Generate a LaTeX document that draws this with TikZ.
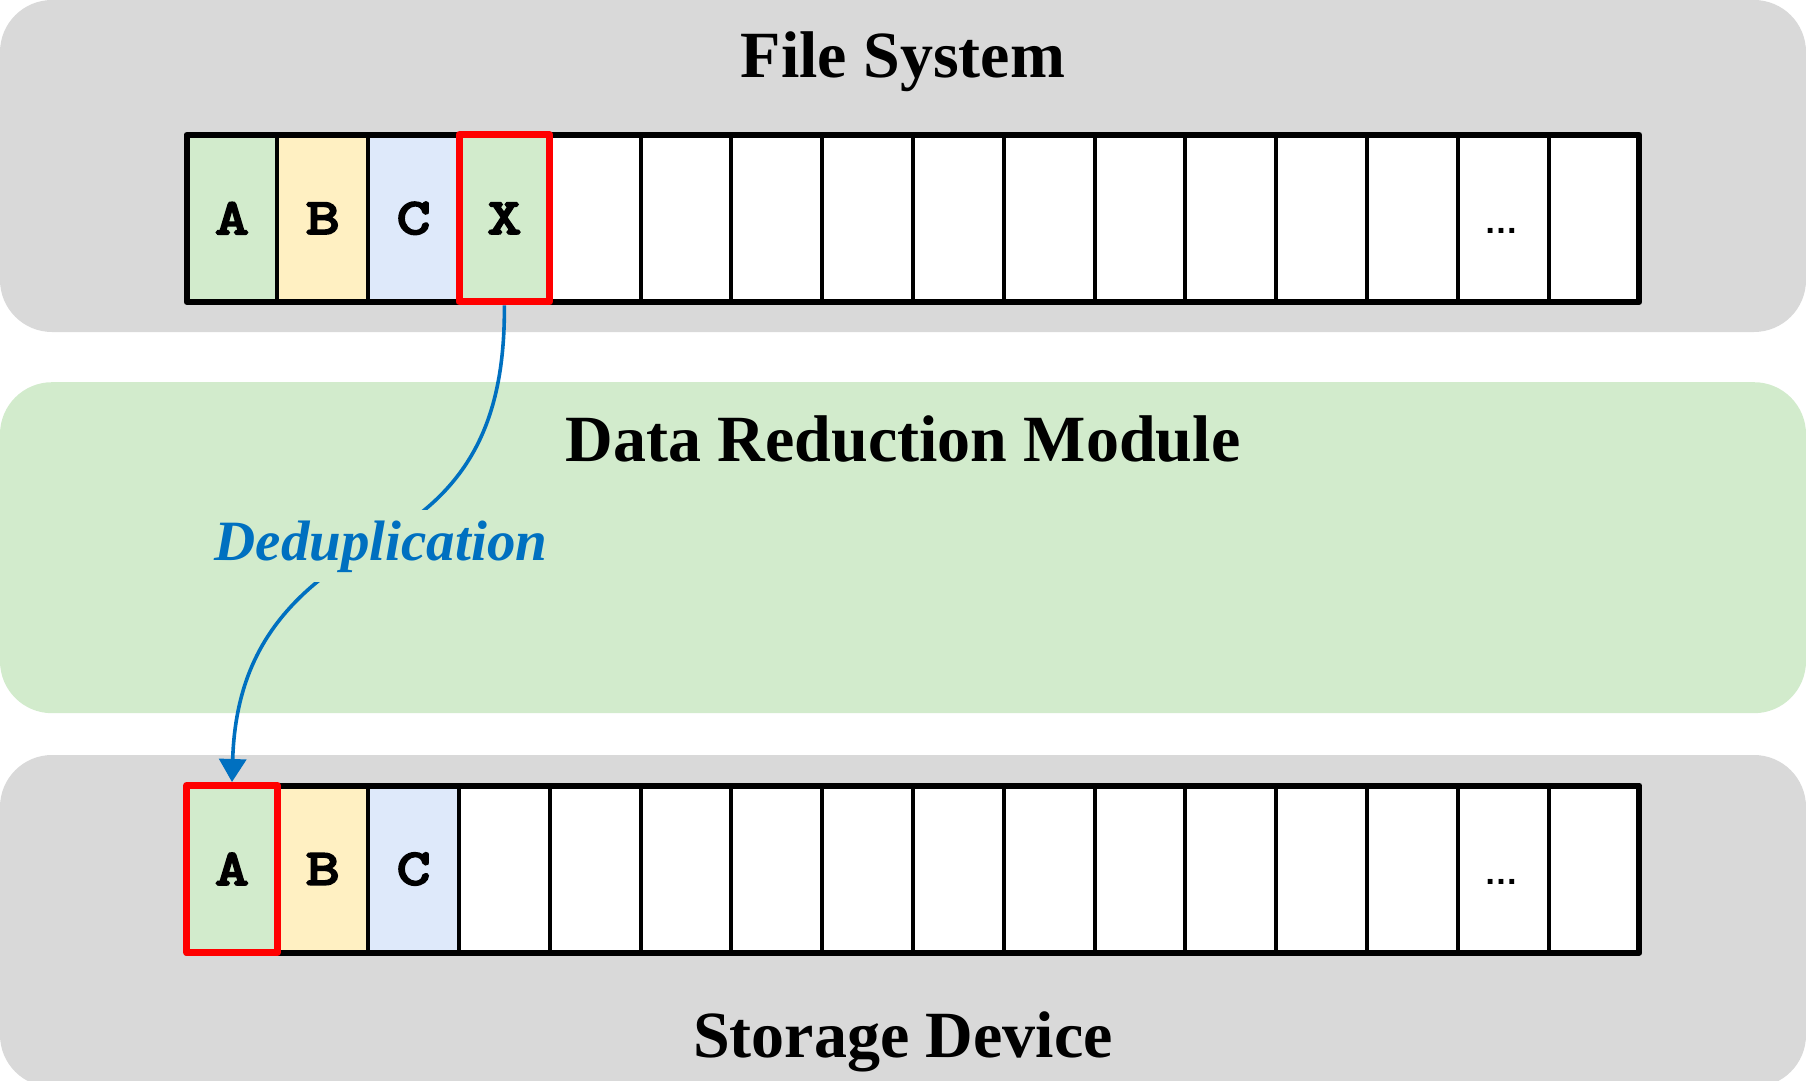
\documentclass[tikz,border=0pt]{standalone}
\usepackage{fontspec}
\setmainfont{Liberation Serif}
\newfontfamily\cellsans{Liberation Sans}
\newfontfamily\cellmono[FakeBold=5,FakeStretch=1.3]{Latin Modern Mono}
\usetikzlibrary{arrows.meta}
\definecolor{panelgray}{HTML}{D9D9D9}
\definecolor{modgreen}{HTML}{D2EBCC}
\definecolor{cellgreen}{HTML}{D2EBCC}
\definecolor{cellyellow}{HTML}{FFF0C2}
\definecolor{cellblue}{HTML}{DEE9FA}
\definecolor{dedupblue}{HTML}{0070C0}
\definecolor{markred}{HTML}{FF0000}
\begin{document}
\begin{tikzpicture}[x=0.5pt,y=-0.5pt,
  panel/.style={rounded corners=26pt, inner sep=0pt, outer sep=0pt, minimum width=903pt},
  title/.style={font=\fontsize{33}{36}\selectfont\bfseries, anchor=base, inner sep=0pt},
  cellbox/.style={draw=black, line width=2pt, minimum width=45.4pt, minimum height=83.5pt,
    inner sep=0pt, outer sep=0pt, fill=white,
    font=\cellmono\bfseries\fontsize{25}{25}\selectfont},
  rowframe/.style={draw=black, line width=3pt, line join=round},
  markbox/.style={draw=markred, line width=3.5pt, minimum width=45.4pt, minimum height=83.5pt,
    inner sep=0pt, outer sep=1.75pt, line join=round},
  dedup/.style={draw=dedupblue, line width=1.8pt, -{Triangle[width=13.5pt,length=11.5pt]}},
  deduplabel/.style={font=\fontsize{28.5}{30}\selectfont\bfseries\itshape, text=dedupblue,
    fill=modgreen, inner sep=5pt, anchor=base},
  dots/.style={font=\cellsans\bfseries\fontsize{17}{17}\selectfont, inner sep=0pt}
]
\useasboundingbox (0,0) rectangle (1806,1081);
\clip (0,0) rectangle (1806,1081);
% panels
\node[panel, fill=panelgray, minimum height=166pt] (fspanel) at (903,166) {};
\node[panel, fill=modgreen, minimum height=165.5pt] (drmpanel) at (903,547.7) {};
\node[panel, fill=panelgray, minimum height=166pt] (sdpanel) at (903,921) {};
% titles
\node[title] (fstitle) at (903,78) {File System};
\node[title] (drmtitle) at (903,461) {Data Reduction Module};
\node[title] (sdtitle) at (903,1057) {Storage Device};
% top row cells
\foreach \i in {5,...,16}
  \node[cellbox] (t\i) at ({186.6+90.8*(\i-0.5)},218.3) {};
\node[cellbox, fill=cellgreen] (t1) at ({186.6+90.8*0.5},218.3) {A};
\node[cellbox, fill=cellyellow] (t2) at ({186.6+90.8*1.5},218.3) {B};
\node[cellbox, fill=cellblue] (t3) at ({186.6+90.8*2.5},218.3) {C};
\node[cellbox, fill=cellgreen] (t4) at ({186.6+90.8*3.5},218.3) {X};
\node[dots] (tdots) at (1501,231) {…};
\draw[rowframe] (t1.north west) rectangle (t16.south east);
\node[markbox] (t4mark) at (t4.center) {};
% bottom row cells
\foreach \i in {4,...,16}
  \node[cellbox] (b\i) at ({186.6+90.8*(\i-0.5)},869) {};
\node[cellbox, fill=cellgreen] (b1) at ({186.6+90.8*0.5},869) {A};
\node[cellbox, fill=cellyellow] (b2) at ({186.6+90.8*1.5},869) {B};
\node[cellbox, fill=cellblue] (b3) at ({186.6+90.8*2.5},869) {C};
\node[dots] (bdots) at (1501,882) {…};
\draw[rowframe] (b1.north west) rectangle (b16.south east);
\node[markbox] (b1mark) at (b1.center) {};
% connector
\coordinate (labc) at (380,540);
\draw[dedup] (t4mark.south) .. controls (505,420) and (470,490) .. (labc)
  .. controls (290,590) and (236,650) .. (b1mark.north);
\node[deduplabel] (dedupl) at (381,560) {Deduplication};
\end{tikzpicture}
\end{document}
